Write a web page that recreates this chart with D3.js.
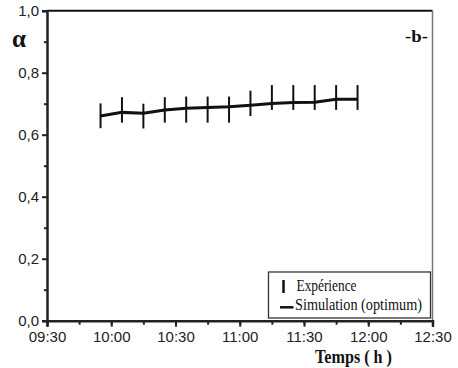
<!DOCTYPE html>
<html>
  <head>
    <meta charset="utf-8" />
    <title>Alpha vs temps</title>
    <script src="https://cdnjs.cloudflare.com/ajax/libs/d3/7.8.5/d3.min.js"></script>
    <style>
      body { margin: 0; background: #fff; }
      svg { display: block; }
      .tick text { font-family: Arial, "Liberation Sans", sans-serif; font-size: 15px; fill: #222; }
      .serif { font-family: "Liberation Serif", "Times New Roman", serif; fill: #111; }
    </style>
  </head>
  <body>
    <svg width="458" height="368"></svg>
  </body>
  <script>
    // measurement times (hh:mm)
    let times = ["09:55", "10:05", "10:15", "10:25", "10:35", "10:45", "10:55",
                 "11:05", "11:15", "11:25", "11:35", "11:45", "11:55"];
    let experience = [0.661, 0.680, 0.660, 0.680, 0.681, 0.681, 0.681,
                      0.701, 0.720, 0.720, 0.720, 0.720, 0.720];
    let errors = [0.040, 0.041, 0.040, 0.041, 0.042, 0.042, 0.042,
                  0.041, 0.040, 0.040, 0.040, 0.040, 0.040];
    let simulation = [0.660, 0.672, 0.669, 0.680, 0.685, 0.688, 0.690,
                      0.695, 0.701, 0.704, 0.705, 0.714, 0.714];
    let xTickLabels = ["09:30", "10:00", "10:30", "11:00", "11:30", "12:00", "12:30"];
    let yTicks = [0, 0.2, 0.4, 0.6, 0.8, 1.0];

    let parse = d3.timeParse("%H:%M");
    let fmt = d3.timeFormat("%H:%M");

    let mLeft = 47, mRight = 432.5, mTop = 10.7, mBottom = 320.7;
    let svg = d3.select("svg");

    let x = d3.scaleTime()
      .domain([parse(xTickLabels[0]), parse(xTickLabels[xTickLabels.length - 1])])
      .range([mLeft, mRight]);
    let y = d3.scaleLinear().domain([0, 1]).range([mBottom, mTop]);

    // minor ticks
    let xMinor = d3.timeMinute.every(15).range(x.domain()[0], d3.timeMinute.offset(x.domain()[1], 1));
    svg.append("g")
      .attr("transform", `translate(0,${mBottom})`)
      .call(d3.axisBottom(x).tickValues(xMinor).tickSize(4).tickFormat(""))
      .call((g) => g.select(".domain").remove())
      .call((g) => g.selectAll("line").attr("stroke", "#222").attr("stroke-width", 2));
    svg.append("g")
      .attr("transform", `translate(${mLeft},0)`)
      .call(d3.axisLeft(y).tickValues(d3.range(0.1, 1, 0.2)).tickSize(3).tickFormat(""))
      .call((g) => g.select(".domain").remove())
      .call((g) => g.selectAll("line").attr("stroke", "#222").attr("stroke-width", 2));

    // frame: top and right
    svg.append("line").attr("x1", mLeft).attr("x2", mRight).attr("y1", mTop).attr("y2", mTop)
      .attr("stroke", "#111").attr("stroke-width", 2);
    svg.append("line").attr("x1", mRight).attr("x2", mRight).attr("y1", mTop).attr("y2", mBottom)
      .attr("stroke", "#777").attr("stroke-width", 1.5);

    // major axes
    svg.append("g")
      .attr("transform", `translate(0,${mBottom})`)
      .call(d3.axisBottom(x).tickValues(xTickLabels.map(parse)).tickFormat(fmt).tickSize(6).tickPadding(5))
      .call((g) => g.select(".domain").attr("stroke", "#222").attr("stroke-width", 2.5))
      .call((g) => g.selectAll("line").attr("stroke", "#222").attr("stroke-width", 2));
    svg.append("g")
      .attr("transform", `translate(${mLeft},0)`)
      .call(d3.axisLeft(y).tickValues(yTicks).tickFormat((d) => d3.format(".1f")(d).replace(".", ",")).tickSize(5).tickPadding(3))
      .call((g) => g.select(".domain").attr("stroke", "#222").attr("stroke-width", 2.5))
      .call((g) => g.selectAll("line").attr("stroke", "#222").attr("stroke-width", 2));

    // error bars (Expérience)
    svg.append("g")
      .selectAll("line")
      .data(times)
      .join("line")
      .attr("x1", (d) => x(parse(d)))
      .attr("x2", (d) => x(parse(d)))
      .attr("y1", (d, i) => y(experience[i] + errors[i]))
      .attr("y2", (d, i) => y(experience[i] - errors[i]))
      .attr("stroke", "#111")
      .attr("stroke-width", 2);

    // simulation line
    let line = d3.line()
      .x((d) => x(parse(d)))
      .y((d, i) => y(simulation[i]));
    svg.append("path")
      .attr("d", line(times))
      .attr("fill", "none")
      .attr("stroke", "#111")
      .attr("stroke-width", 3);

    // labels
    svg.append("text").attr("class", "serif").attr("x", 12).attr("y", 46.5).text("α")
      .style("font-size", "25px").style("font-weight", "bold");
    svg.append("text").attr("class", "serif").attr("x", 405).attr("y", 42).text("-b-")
      .attr("textLength", 23).attr("lengthAdjust", "spacingAndGlyphs")
      .style("font-size", "17px").style("font-weight", "bold");
    svg.append("text").attr("class", "serif").attr("x", 315).attr("y", 363).text("Temps ( h )")
      .attr("textLength", 77).attr("lengthAdjust", "spacingAndGlyphs")
      .style("font-size", "19px").style("font-weight", "bold");

    // legend
    let lg = svg.append("g").attr("transform", "translate(268.5,272)");
    lg.append("rect").attr("width", 162).attr("height", 46)
      .attr("fill", "#fff").attr("stroke", "#333").attr("stroke-width", 1.3);
    lg.append("line").attr("x1", 15).attr("x2", 15).attr("y1", 8).attr("y2", 21)
      .attr("stroke", "#111").attr("stroke-width", 2.5);
    lg.append("line").attr("x1", 11.5).attr("x2", 25).attr("y1", 35.3).attr("y2", 35.3)
      .attr("stroke", "#111").attr("stroke-width", 2.5);
    lg.append("text").attr("class", "serif").attr("x", 28).attr("y", 18.7).text("Expérience")
      .attr("textLength", 60).attr("lengthAdjust", "spacingAndGlyphs")
      .style("font-size", "17px");
    lg.append("text").attr("class", "serif").attr("x", 26.5).attr("y", 37.7).text("Simulation (optimum)")
      .attr("textLength", 127).attr("lengthAdjust", "spacingAndGlyphs")
      .style("font-size", "17px");
  </script>
</html>
